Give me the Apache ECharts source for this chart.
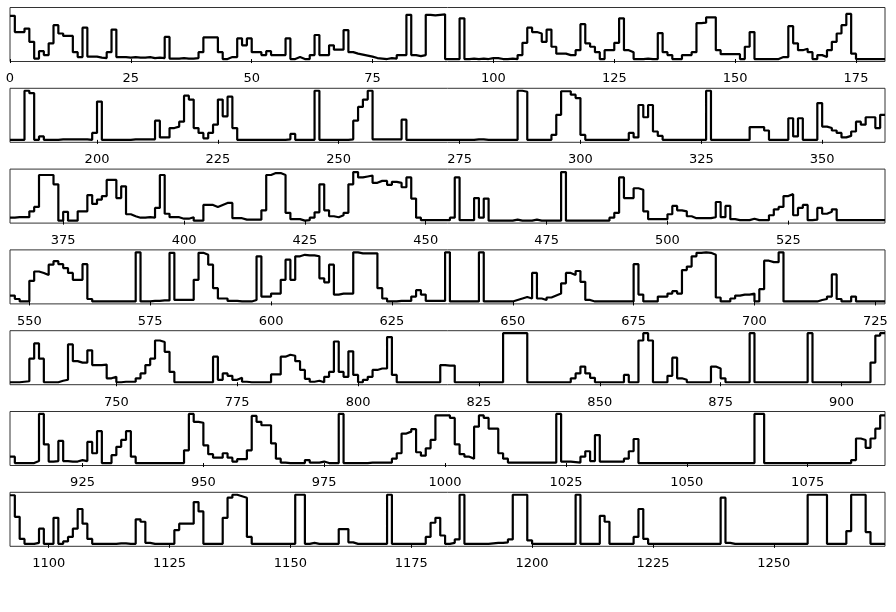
<!DOCTYPE html>
<html>
<head>
<meta charset="utf-8">
<script src="https://cdn.jsdelivr.net/npm/echarts@6/dist/echarts.min.js"></script>
<style>
html,body{margin:0;padding:0;background:#fff;}
#chart{width:896px;height:612px;}
</style>
</head>
<body>
<div id="chart"></div>
<script>
// Row start indices (each row shows 181 unit steps)
var rowStarts = [0, 182, 364, 546, 728, 910, 1092];
var rowSpan = 181;

// Tick labels per row
var ticks1 = [0, 25, 50, 75, 100, 125, 150, 175];
var ticks2 = [200, 225, 250, 275, 300, 325, 350];
var ticks3 = [375, 400, 425, 450, 475, 500, 525];
var ticks4 = [550, 575, 600, 625, 650, 675, 700, 725];
var ticks5 = [750, 775, 800, 825, 850, 875, 900];
var ticks6 = [925, 950, 975, 1000, 1025, 1050, 1075];
var ticks7 = [1100, 1125, 1150, 1175, 1200, 1225, 1250];

// Series values (relative level), one array per row
var row1 = [
0.88,0.55,0.55,0.62,0.35,0.01,0.16,0.08,0.32,0.69,
0.52,0.47,0.47,0.14,0.04,0.64,0.05,0.05,0.03,0.02,
0.14,0.60,0.04,0.04,0.03,0.04,0.03,0.03,0.04,0.02,
0.03,0.02,0.45,0.01,0.01,0.02,0.01,0.01,0.02,0.14,
0.44,0.44,0.44,0.14,0.00,0.04,0.04,0.42,0.28,0.42,
0.14,0.14,0.08,0.16,0.08,0.08,0.08,0.42,0.00,0.04,
0.00,0.00,0.08,0.49,0.08,0.08,0.28,0.19,0.19,0.59,
0.14,0.11,0.09,0.07,0.05,0.02,0.01,0.00,0.02,0.01,
0.08,0.08,0.90,0.08,0.06,0.08,0.90,0.89,0.90,0.91,
0.00,0.00,0.00,0.83,0.00,0.01,0.00,0.01,0.00,0.02,
0.02,0.00,0.00,0.01,0.00,0.08,0.33,0.64,0.55,0.52,
0.35,0.60,0.25,0.11,0.11,0.08,0.08,0.18,0.71,0.32,
0.25,0.14,0.00,0.18,0.18,0.33,0.83,0.18,0.14,0.00,
0.00,0.01,0.00,0.00,0.53,0.14,0.08,0.00,0.00,0.08,
0.08,0.14,0.73,0.74,0.85,0.85,0.18,0.10,0.10,0.10,
0.10,0.00,0.25,0.55,0.00,0.00,0.00,0.00,0.00,0.04,
0.04,0.67,0.32,0.18,0.21,0.14,0.00,0.08,0.04,0.18,
0.35,0.52,0.69,0.92,0.11,0.00,0.00,0.00,0.00,0.00,
0.00];
var row2 = [
0.00,0.00,0.00,1.00,0.95,0.00,0.07,0.00,0.00,0.00,
0.01,0.01,0.01,0.01,0.01,0.01,0.00,0.14,0.78,0.00,
0.00,0.00,0.00,0.00,0.00,0.01,0.01,0.01,0.01,0.01,
0.39,0.05,0.05,0.24,0.27,0.37,0.90,0.82,0.24,0.14,
0.03,0.14,0.31,0.82,0.48,0.88,0.24,0.00,0.00,0.00,
0.00,0.00,0.00,0.00,0.00,0.00,0.00,0.01,0.12,0.00,
0.00,0.00,0.00,1.00,0.00,0.00,0.00,0.00,0.00,0.00,
0.01,0.39,0.67,0.82,1.00,0.01,0.01,0.01,0.01,0.01,
0.01,0.41,0.00,0.00,0.00,0.00,0.00,0.00,0.00,0.00,
0.00,0.00,0.00,0.00,0.00,0.00,0.01,0.01,0.00,0.00,
0.00,0.00,0.00,0.00,0.00,1.00,0.98,0.00,0.00,0.00,
0.00,0.00,0.10,0.51,0.99,0.99,0.92,0.85,0.10,0.00,
0.00,0.00,0.00,0.00,0.00,0.00,0.00,0.00,0.14,0.05,
0.71,0.46,0.71,0.17,0.08,0.00,0.00,0.00,0.00,0.00,
0.00,0.00,0.00,0.00,1.00,0.00,0.00,0.00,0.00,0.00,
0.00,0.00,0.00,0.26,0.26,0.26,0.19,0.00,0.00,0.00,
0.00,0.44,0.07,0.44,0.00,0.00,0.00,0.75,0.27,0.24,
0.19,0.14,0.05,0.08,0.17,0.37,0.31,0.46,0.46,0.24,
0.51];
var row3 = [
0.06,0.07,0.07,0.07,0.19,0.28,0.93,0.93,0.93,0.74,
0.00,0.18,0.00,0.00,0.19,0.19,0.52,0.34,0.43,0.50,
0.83,0.83,0.46,0.70,0.13,0.09,0.06,0.06,0.07,0.06,
0.26,0.93,0.14,0.07,0.07,0.04,0.04,0.07,0.00,0.00,
0.32,0.32,0.28,0.32,0.36,0.36,0.05,0.05,0.02,0.02,
0.02,0.02,0.21,0.93,0.97,0.97,0.93,0.16,0.03,0.03,
0.00,0.01,0.06,0.17,0.74,0.21,0.09,0.07,0.11,0.16,
0.74,0.99,0.88,0.90,0.92,0.77,0.81,0.81,0.73,0.79,
0.77,0.68,0.88,0.45,0.06,0.01,0.01,0.01,0.01,0.01,
0.01,0.06,0.88,0.01,0.01,0.01,0.46,0.06,0.45,0.00,
0.00,0.00,0.00,0.00,0.02,0.00,0.00,0.00,0.02,0.00,
0.00,0.00,0.00,0.00,0.99,0.00,0.00,0.00,0.00,0.00,
0.00,0.00,0.00,0.00,0.06,0.16,0.88,0.46,0.46,0.66,
0.63,0.19,0.03,0.03,0.03,0.03,0.13,0.30,0.21,0.19,
0.09,0.05,0.05,0.05,0.05,0.07,0.38,0.07,0.30,0.03,
0.01,0.01,0.01,0.04,0.01,0.01,0.01,0.11,0.23,0.28,
0.50,0.54,0.11,0.26,0.32,0.01,0.02,0.26,0.14,0.18,
0.23,0.01,0.01,0.01,0.01,0.01,0.01,0.01,0.01,0.01,
0.01];
var row4 = [
0.12,0.05,0.00,0.00,0.42,0.61,0.58,0.54,0.75,0.82,
0.76,0.68,0.58,0.44,0.44,0.76,0.05,0.00,0.00,0.00,
0.00,0.00,0.00,0.00,0.00,0.00,1.00,0.00,0.00,0.01,
0.01,0.02,0.02,0.99,0.03,0.03,0.03,0.03,0.44,0.99,
0.95,0.75,0.27,0.06,0.06,0.01,0.01,0.00,0.00,0.00,
0.03,0.92,0.10,0.10,0.16,0.16,0.44,0.85,0.44,0.92,
0.95,0.94,0.94,0.92,0.47,0.39,0.75,0.14,0.16,0.16,
0.16,1.00,0.98,0.98,0.98,0.98,0.27,0.06,0.00,0.00,
0.01,0.01,0.01,0.10,0.23,0.14,0.01,0.01,0.01,0.01,
1.00,0.00,0.00,0.00,0.00,0.00,0.00,1.00,0.00,0.00,
0.00,0.00,0.00,0.00,0.03,0.06,0.09,0.06,0.58,0.06,
0.03,0.08,0.12,0.16,0.37,0.58,0.54,0.62,0.40,0.03,
0.00,0.00,0.00,0.00,0.00,0.00,0.00,0.00,0.00,0.76,
0.14,0.00,0.00,0.00,0.10,0.10,0.16,0.21,0.16,0.64,
0.71,0.92,0.99,1.00,0.99,0.95,0.08,0.00,0.00,0.06,
0.12,0.14,0.14,0.16,0.00,0.25,0.83,0.80,0.80,1.00,
0.00,0.00,0.00,0.00,0.00,0.00,0.00,0.03,0.05,0.10,
0.55,0.05,0.00,0.00,0.10,0.00,0.00,0.00,0.00,0.00,
0.00];
var row5 = [
0.00,0.00,0.01,0.02,0.48,0.79,0.48,0.00,0.00,0.00,
0.03,0.05,0.77,0.43,0.40,0.40,0.65,0.35,0.35,0.36,
0.08,0.11,0.00,0.01,0.01,0.01,0.08,0.18,0.35,0.48,
0.85,0.82,0.62,0.21,0.00,0.00,0.00,0.00,0.00,0.00,
0.00,0.00,0.52,0.05,0.18,0.13,0.05,0.09,0.01,0.00,
0.00,0.00,0.00,0.00,0.16,0.16,0.52,0.56,0.54,0.43,
0.25,0.07,0.01,0.03,0.00,0.11,0.21,0.83,0.21,0.11,
0.63,0.15,0.00,0.05,0.11,0.25,0.28,0.28,0.92,0.15,
0.00,0.00,0.00,0.00,0.00,0.00,0.00,0.00,0.00,0.35,
0.34,0.34,0.00,0.00,0.00,0.00,0.00,0.00,0.00,0.00,
0.00,0.00,1.00,1.00,1.00,1.00,1.00,0.00,0.00,0.00,
0.00,0.00,0.00,0.00,0.00,0.00,0.08,0.18,0.32,0.18,
0.09,0.00,0.00,0.00,0.00,0.00,0.00,0.15,0.00,0.00,
0.85,1.00,0.85,0.00,0.00,0.00,0.13,0.50,0.08,0.05,
0.00,0.00,0.00,0.00,0.00,0.32,0.28,0.08,0.00,0.00,
0.00,0.00,0.00,1.00,0.00,0.00,0.00,0.00,0.00,0.00,
0.00,0.00,0.00,0.00,0.00,1.00,0.00,0.00,0.00,0.00,
0.00,0.00,0.00,0.00,0.00,0.00,0.00,0.00,0.40,0.95,
1.00];
var row6 = [
0.13,0.00,0.00,0.00,0.00,0.04,1.00,0.38,0.03,0.04,
0.45,0.04,0.03,0.03,0.06,0.04,0.43,0.20,0.65,0.00,
0.00,0.16,0.33,0.47,0.65,0.13,0.00,0.00,0.00,0.00,
0.00,0.00,0.00,0.00,0.00,0.00,0.26,1.00,0.84,0.82,
0.36,0.18,0.11,0.11,0.20,0.11,0.03,0.08,0.08,0.26,
0.96,0.84,0.77,0.77,0.40,0.09,0.01,0.00,0.00,0.00,
0.00,0.06,0.01,0.01,0.03,0.00,0.00,0.00,1.00,0.00,
0.00,0.00,0.00,0.00,0.01,0.01,0.01,0.01,0.01,0.09,
0.20,0.60,0.64,0.69,0.22,0.15,0.30,0.47,0.97,0.97,
0.97,0.92,0.38,0.18,0.13,0.09,0.74,0.97,0.92,0.70,
0.70,0.20,0.09,0.01,0.01,0.01,0.01,0.01,0.01,0.01,
0.01,0.01,0.01,1.00,0.03,0.03,0.02,0.01,0.13,0.24,
0.04,0.57,0.03,0.03,0.03,0.03,0.03,0.09,0.24,0.49,
0.00,0.00,0.00,0.00,0.00,0.00,0.00,0.00,0.00,0.00,
0.00,0.00,0.00,0.00,0.00,0.00,0.00,0.00,0.00,0.00,
0.00,0.00,0.00,0.00,1.00,1.00,0.00,0.00,0.00,0.00,
0.00,0.00,0.00,0.00,0.00,0.00,0.00,0.00,0.00,0.00,
0.00,0.00,0.00,0.00,0.06,0.50,0.47,0.31,0.50,0.70,
0.97];
var row7 = [
0.99,0.55,0.10,0.00,0.00,0.02,0.31,0.00,0.00,0.53,
0.00,0.05,0.14,0.31,0.71,0.41,0.10,0.00,0.00,0.00,
0.00,0.00,0.01,0.01,0.00,0.00,0.50,0.45,0.02,0.00,
0.00,0.00,0.00,0.00,0.28,0.41,0.41,0.41,0.85,0.66,
0.00,0.00,0.00,0.00,0.53,0.94,1.00,0.97,0.94,0.14,
0.00,0.00,0.00,0.00,0.00,0.00,0.00,0.00,0.00,1.00,
1.00,0.00,0.02,0.00,0.00,0.00,0.00,0.00,0.30,0.30,
0.03,0.00,0.00,0.00,0.00,0.00,0.00,0.00,1.00,0.00,
0.00,0.00,0.00,0.00,0.00,0.00,0.14,0.43,0.53,0.17,
0.00,0.02,0.09,1.00,0.00,0.00,0.00,0.00,0.00,0.01,
0.02,0.02,0.03,0.09,1.00,1.00,1.00,0.07,0.00,0.00,
0.00,0.00,0.00,0.00,0.00,0.00,0.00,1.00,0.00,0.00,
0.00,0.00,0.57,0.45,0.00,0.00,0.00,0.00,0.00,0.14,
0.71,0.10,0.00,0.00,0.00,0.00,0.00,0.00,0.00,0.00,
0.00,0.00,0.00,0.00,0.00,0.00,0.00,0.94,0.02,0.00,
0.00,0.00,0.00,0.00,0.00,0.00,0.00,0.00,0.00,0.00,
0.00,0.00,0.00,0.00,0.00,1.00,1.00,1.00,1.00,0.00,
0.00,0.00,0.00,0.26,1.00,1.00,1.00,0.24,0.00,0.00,
0.00];

var rows = [row1, row2, row3, row4, row5, row6, row7];
var tickSets = [ticks1, ticks2, ticks3, ticks4, ticks5, ticks6, ticks7];

var grids = [], xAxes = [], yAxes = [], series = [];
for (var k = 0; k < rows.length; k++) {
  var start = rowStarts[k];
  grids.push({
    left: 10, width: 875, top: 7.5 + 80.8 * k, height: 54,
    show: true, borderColor: '#333', borderWidth: 1, backgroundColor: 'transparent'
  });
  xAxes.push({
    type: 'value', gridIndex: k, min: start, max: start + rowSpan,
    axisLine: { show: false },
    axisTick: { show: true, length: 4, customValues: tickSets[k], lineStyle: { color: '#000', width: 1 } },
    axisLabel: {
      customValues: tickSets[k], fontSize: 13, fontFamily: 'DejaVu Sans', color: '#000', margin: 11,
      formatter: function (v) { return String(v); }
    },
    splitLine: { show: false }
  });
  yAxes.push({
    type: 'value', gridIndex: k, min: -0.05, max: 1.05, show: false,
    splitLine: { show: false }
  });
  var arr = rows[k];
  var pts = arr.map(function (v, i) { return [start + i, v]; });
  pts.push([start + arr.length, arr[arr.length - 1]]);
  series.push({
    type: 'line', xAxisIndex: k, yAxisIndex: k, step: 'end',
    symbol: 'none', data: pts, clip: true,
    lineStyle: { color: '#000', width: 2.2 }
  });
}

var chart = echarts.init(document.getElementById('chart'), null, { renderer: 'canvas' });
chart.setOption({
  animation: false,
  backgroundColor: '#fff',
  grid: grids,
  xAxis: xAxes,
  yAxis: yAxes,
  series: series
});
</script>
</body>
</html>
